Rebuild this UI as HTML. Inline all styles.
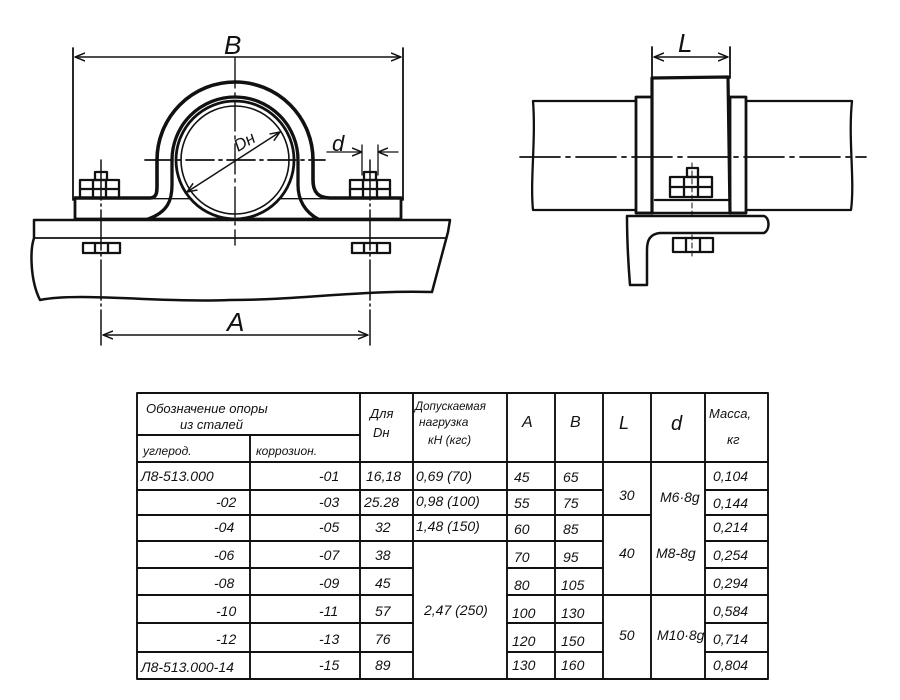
<!DOCTYPE html>
<html><head><meta charset="utf-8"><style>
html,body{margin:0;padding:0;background:#fff;}
svg{display:block;}
text{font-family:"Liberation Sans",sans-serif;font-style:italic;fill:#111;}
</style></head><body>
<svg width="900" height="700" viewBox="0 0 900 700" xmlns="http://www.w3.org/2000/svg">
<defs>
<marker id="ar" viewBox="0 0 10 10" refX="10" refY="5" markerWidth="10" markerHeight="10" orient="auto-start-reverse" markerUnits="userSpaceOnUse"><path d="M0,1 L10,5 L0,9" fill="none" stroke="#111" stroke-width="1.5"/></marker>
</defs>
<g stroke="#111" fill="none" stroke-linecap="round" stroke-linejoin="round">
<line x1="73" y1="48" x2="73" y2="200" stroke-width="1.8"/>
<line x1="403" y1="48" x2="403" y2="200" stroke-width="1.8"/>
<line x1="75" y1="57" x2="401" y2="57" stroke-width="1.5" marker-start="url(#ar)" marker-end="url(#ar)"/>
<path d="M34,220 L450,220 L448,232 L432,292 C360,290 300,300 230,300 C160,303 80,292 40,300 C30,280 30,250 34,238 Z" stroke-width="2.5"/>
<line x1="34" y1="238" x2="446" y2="238" stroke-width="1.8"/>
<rect x="75" y="198" width="326" height="21" stroke-width="2.8" fill="#fff"/>
<path d="M75,198 L150,198 C158,198 157,190 157,180 L157,160 A78,78 0 0 1 313,160 L313,180 C313,192 318,198 330,198 L401,198" stroke-width="3.6" fill="#fff"/>
<path d="M148,219 C168,212 172,200 172,185 L172,160 A63,63 0 0 1 298,160 L298,185 C298,200 305,212 318,219" stroke-width="3.3"/>
<circle cx="235" cy="160" r="59" stroke-width="2.8" fill="#fff"/>
<circle cx="235" cy="160" r="54" stroke-width="1.6"/>
<line x1="235" y1="58" x2="235" y2="245" stroke-width="1.4" stroke-dasharray="30,5,3,5"/>
<line x1="145" y1="160" x2="325" y2="160" stroke-width="1.8" stroke-dasharray="28,5,3,5"/>
<line x1="187" y1="192" x2="280" y2="132" stroke-width="1.5" marker-start="url(#ar)" marker-end="url(#ar)"/>
<g stroke-width="2.3">
<rect x="80" y="180" width="39" height="18"/><line x1="80" y1="189" x2="119" y2="189"/><line x1="93" y1="180" x2="93" y2="198"/><line x1="106" y1="180" x2="106" y2="198"/>
<rect x="95" y="172" width="12" height="8"/>
<rect x="83" y="243" width="37" height="10"/><line x1="95" y1="243" x2="95" y2="253"/><line x1="108" y1="243" x2="108" y2="253"/>
<rect x="350" y="180" width="40" height="18"/><line x1="350" y1="189" x2="390" y2="189"/><line x1="363" y1="180" x2="363" y2="198"/><line x1="377" y1="180" x2="377" y2="198"/>
<rect x="364" y="172" width="12" height="8"/>
<rect x="352" y="243" width="38" height="10"/><line x1="364" y1="243" x2="364" y2="253"/><line x1="377" y1="243" x2="377" y2="253"/>
</g>
<line x1="101" y1="160" x2="101" y2="345" stroke-width="1.5" stroke-dasharray="40,4,2,4"/>
<line x1="370" y1="160" x2="370" y2="345" stroke-width="1.5" stroke-dasharray="40,4,2,4"/>
<line x1="362" y1="145" x2="362" y2="175" stroke-width="1.3"/>
<line x1="378" y1="145" x2="378" y2="175" stroke-width="1.3"/>
<line x1="327" y1="152" x2="362" y2="152" stroke-width="1.3" marker-end="url(#ar)"/>
<line x1="398" y1="152" x2="378" y2="152" stroke-width="1.3" marker-end="url(#ar)"/>
<line x1="103" y1="335" x2="368" y2="335" stroke-width="1.5" marker-start="url(#ar)" marker-end="url(#ar)"/>

<line x1="652" y1="47" x2="652" y2="78" stroke-width="1.8"/>
<line x1="730" y1="47" x2="730" y2="78" stroke-width="1.8"/>
<line x1="654" y1="57" x2="728" y2="57" stroke-width="1.5" marker-start="url(#ar)" marker-end="url(#ar)"/>
<path d="M636,101 L533,101 C536,140 530,180 533,210 L636,210" stroke-width="2.3"/>
<path d="M746,101 L852,101 C848,140 855,180 851,210 L746,210" stroke-width="2.3"/>
<line x1="520" y1="157" x2="866" y2="157" stroke-width="1.8" stroke-dasharray="40,6,4,6"/>
<rect x="636" y="97" width="16" height="116" stroke-width="2.8"/>
<rect x="730" y="97" width="16" height="116" stroke-width="2.8"/>
<path d="M652,213 L652,78 L728,77 L730,213" stroke-width="3.2"/>
<line x1="655" y1="200" x2="728" y2="200" stroke-width="2.3"/>
<g stroke-width="2.3">
<rect x="670" y="177" width="42" height="20"/><line x1="670" y1="187" x2="712" y2="187"/><line x1="684" y1="177" x2="684" y2="197"/><line x1="698" y1="177" x2="698" y2="197"/>
<rect x="687" y="168" width="11" height="9"/>
<rect x="673" y="238" width="40" height="14"/><line x1="686" y1="238" x2="686" y2="252"/><line x1="700" y1="238" x2="700" y2="252"/>
</g>
<line x1="692" y1="163" x2="692" y2="256" stroke-width="1" stroke-dasharray="5,3"/>
<path d="M627,216 L764,216 C770,218 770,230 764,233 L660,233 C650,234 647,240 647,250 L647,285 L630,285 C628,260 627,240 627,216 Z" stroke-width="2.5" fill="#fff"/>
<line x1="636" y1="213" x2="746" y2="213" stroke-width="2.5"/>

<g stroke-width="1.9">
<rect x="137" y="393" width="631" height="286"/>
<line x1="137" y1="435" x2="360" y2="435"/>
<line x1="250" y1="435" x2="250" y2="679"/>
<line x1="137" y1="462" x2="768" y2="462"/>
<line x1="360" y1="393" x2="360" y2="679"/>
<line x1="413" y1="393" x2="413" y2="679"/>
<line x1="507" y1="393" x2="507" y2="679"/>
<line x1="555" y1="393" x2="555" y2="679"/>
<line x1="603" y1="393" x2="603" y2="679"/>
<line x1="651" y1="393" x2="651" y2="679"/>
<line x1="705" y1="393" x2="705" y2="679"/>
<line x1="137" y1="490" x2="413" y2="490"/>
<line x1="137" y1="515" x2="413" y2="515"/>
<line x1="137" y1="541" x2="413" y2="541"/>
<line x1="137" y1="568" x2="413" y2="568"/>
<line x1="137" y1="595" x2="413" y2="595"/>
<line x1="137" y1="623" x2="413" y2="623"/>
<line x1="137" y1="652" x2="413" y2="652"/>
<line x1="413" y1="490" x2="507" y2="490"/>
<line x1="413" y1="515" x2="507" y2="515"/>
<line x1="413" y1="541" x2="507" y2="541"/>
<line x1="507" y1="490" x2="603" y2="490"/>
<line x1="507" y1="515" x2="603" y2="515"/>
<line x1="507" y1="541" x2="603" y2="541"/>
<line x1="507" y1="568" x2="603" y2="568"/>
<line x1="507" y1="595" x2="603" y2="595"/>
<line x1="507" y1="623" x2="603" y2="623"/>
<line x1="507" y1="652" x2="603" y2="652"/>
<line x1="603" y1="515" x2="651" y2="515"/>
<line x1="603" y1="595" x2="705" y2="595"/>
<line x1="705" y1="490" x2="768" y2="490"/>
<line x1="705" y1="515" x2="768" y2="515"/>
<line x1="705" y1="541" x2="768" y2="541"/>
<line x1="705" y1="568" x2="768" y2="568"/>
<line x1="705" y1="595" x2="768" y2="595"/>
<line x1="705" y1="623" x2="768" y2="623"/>
<line x1="705" y1="652" x2="768" y2="652"/>
</g>
</g>

<g font-size="26">
<text x="224" y="54">B</text>
<text x="227" y="331">A</text>
<text x="678" y="52">L</text>
</g>
<text x="332" y="151" font-size="22">d</text>
<text x="238" y="152" font-size="17" transform="rotate(-30 238 152)">Dн</text>

<g font-size="13">
<text x="146" y="413">Обозначение    опоры</text>
<text x="180" y="429">из сталей</text>
<text x="143" y="455" font-size="12">углерод.</text>
<text x="256" y="455" font-size="12">коррозион.</text>
<text x="370" y="418">Для</text>
<text x="373" y="437">Dн</text>
<text x="415" y="410" font-size="11.5">Допускаемая</text>
<text x="419" y="426" font-size="12">нагрузка</text>
<text x="428" y="444" font-size="12">кН (кгс)</text>
<text x="522" y="427" font-size="16">A</text>
<text x="570" y="427" font-size="16">B</text>
<text x="619" y="429" font-size="18">L</text>
<text x="671" y="430" font-size="20">d</text>
<text x="709" y="418">Масса,</text>
<text x="727" y="444">кг</text>
</g>
<g font-size="14">
<text x="141" y="481">Л8-513.000</text>
<text x="319" y="481">-01</text><text x="366" y="481">16,18</text><text x="416" y="481">0,69 (70)</text>
<text x="514" y="482">45</text><text x="563" y="482">65</text><text x="713" y="481">0,104</text>
<text x="216" y="507">-02</text><text x="319" y="507">-03</text><text x="364" y="507">25.28</text><text x="416" y="506">0,98 (100)</text>
<text x="514" y="508">55</text><text x="563" y="508">75</text><text x="713" y="508">0,144</text>
<text x="619" y="500">30</text><text x="660" y="502">М6·8g</text>
<text x="214" y="532">-04</text><text x="319" y="532">-05</text><text x="375" y="532">32</text><text x="416" y="531">1,48 (150)</text>
<text x="514" y="534">60</text><text x="563" y="534">85</text><text x="713" y="532">0,214</text>
<text x="214" y="560">-06</text><text x="319" y="560">-07</text><text x="375" y="560">38</text>
<text x="514" y="562">70</text><text x="563" y="562">95</text><text x="713" y="560">0,254</text>
<text x="619" y="558">40</text><text x="656" y="558">М8-8g</text>
<text x="214" y="588">-08</text><text x="319" y="588">-09</text><text x="375" y="588">45</text>
<text x="514" y="590">80</text><text x="561" y="590">105</text><text x="713" y="588">0,294</text>
<text x="216" y="616">-10</text><text x="319" y="616">-11</text><text x="375" y="616">57</text><text x="424" y="615">2,47 (250)</text>
<text x="512" y="618">100</text><text x="561" y="618">130</text><text x="713" y="616">0,584</text>
<text x="216" y="644">-12</text><text x="319" y="644">-13</text><text x="375" y="644">76</text>
<text x="512" y="646">120</text><text x="561" y="646">150</text><text x="713" y="644">0,714</text>
<text x="619" y="640">50</text><text x="657" y="640">М10·8g</text>
<text x="141" y="672">Л8-513.000-14</text><text x="319" y="670">-15</text><text x="375" y="670">89</text>
<text x="512" y="670">130</text><text x="561" y="670">160</text><text x="713" y="670">0,804</text>
</g>
</svg>
</body></html>
